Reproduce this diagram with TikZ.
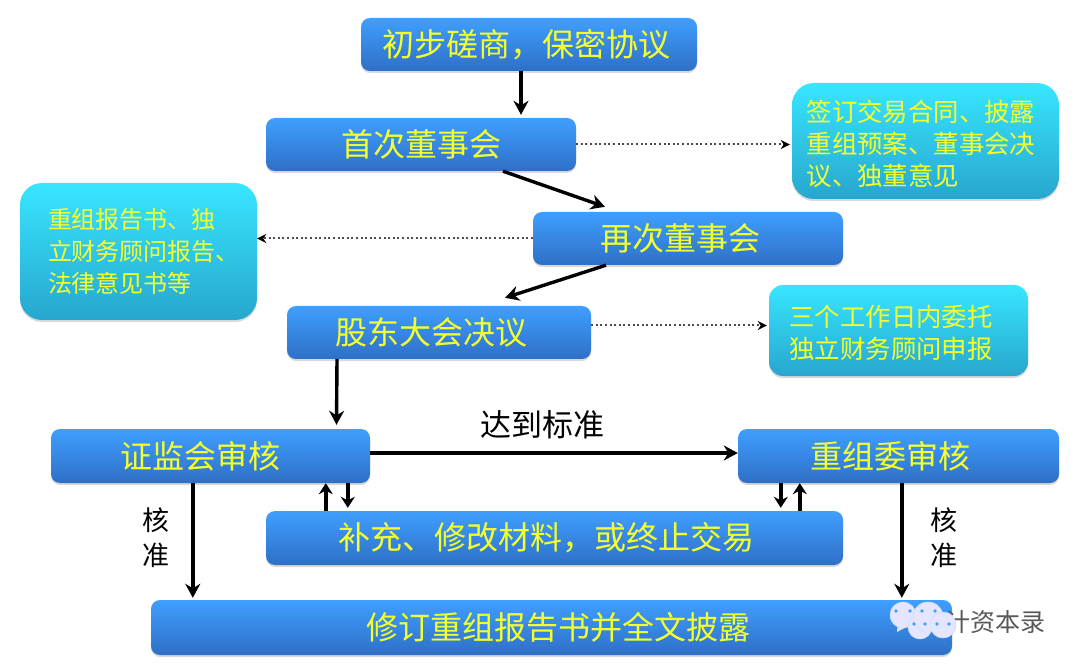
\documentclass[tikz,border=0pt]{standalone}
\usepackage{fontspec}
\setmainfont{Noto Sans CJK SC}
\newfontfamily\cjk{Noto Sans CJK SC}
\usetikzlibrary{arrows.meta,shadows}
\definecolor{btop}{HTML}{3F9FFF}
\definecolor{bbot}{HTML}{2F6FC6}
\definecolor{ctop}{HTML}{38E6FF}
\definecolor{cbot}{HTML}{27A6CE}
\definecolor{txtyellow}{HTML}{F4FF2E}
\tikzset{
  stepbox/.style={rounded corners=9pt, top color=btop, bottom color=bbot, draw=none,
    text=txtyellow, font=\cjk\fontsize{32}{36}\selectfont, inner sep=0pt,
    drop shadow={shadow xshift=0pt, shadow yshift=-2pt, opacity=.3}},
  notebox/.style={rounded corners=22pt, top color=ctop, bottom color=cbot, draw=none,
    text=txtyellow, font=\cjk\fontsize{25.4}{32}\selectfont, align=left, inner sep=0pt,
    drop shadow={shadow xshift=0pt, shadow yshift=-2pt, opacity=.3}},
  mainarrow/.style={line width=3.4pt, -{Stealth[length=14pt,width=15pt]}},
  pairarrow/.style={line width=3.4pt, -{Stealth[length=11pt,width=14pt]}},
  noteline/.style={line width=2pt, dash pattern=on 2pt off 2.6pt, black!70, -{Stealth[length=9pt,width=9pt,black]}},
  sidelabel/.style={font=\cjk\fontsize{27}{30}\selectfont, text=black, inner sep=0pt},
  bubble/.style={fill=white!90!blue, draw=btop!30, line width=.6pt},
}
\begin{document}
\begin{tikzpicture}[x=1pt,y=-1pt]
\useasboundingbox (0,0) rectangle (1080,671);

% Process boxes
\node[stepbox, minimum width=336pt, minimum height=53pt] (agree) at (529,44.5) {\hspace*{-6pt}初步磋商，保密协议};
\node[stepbox, minimum width=310pt, minimum height=53pt] (firstboard) at (421,144.5) {首次董事会};
\node[stepbox, minimum width=310pt, minimum height=53pt] (secondboard) at (688,238.5) {\hspace*{-16pt}再次董事会};
\node[stepbox, minimum width=304pt, minimum height=53pt] (meeting) at (439,332.5) {\hspace*{-16pt}股东大会决议};
\node[stepbox, minimum width=319pt, minimum height=54pt] (csrc) at (210.5,456) {\hspace*{-21pt}证监会审核};
\node[stepbox, minimum width=321pt, minimum height=54pt] (committee) at (898.5,456) {\hspace*{-17pt}重组委审核};
\node[stepbox, minimum width=577pt, minimum height=54pt] (amend) at (554.5,538) {\hspace*{-17pt}补充、修改材料，或终止交易};
\node[stepbox, minimum width=801pt, minimum height=55pt] (publish) at (551.5,627.5) {\hspace*{14pt}修订重组报告书并全文披露};

% Note boxes
\node[notebox, minimum width=267pt, minimum height=116pt] (noteone) at (925.5,141)
  {\hspace*{-9pt}\rule{0pt}{28pt}签订交易合同、披露\\\hspace*{-9pt}重组预案、董事会决\\\hspace*{-9pt}议、独董意见};
\node[notebox, font=\cjk\fontsize{24}{32}\selectfont, minimum width=237pt, minimum height=137pt] (notetwo) at (138.5,251.5)
  {\hspace*{11pt}重组报告书、独\\\hspace*{11pt}立财务顾问报告、\\\hspace*{11pt}法律意见书等};
\node[notebox, rounded corners=14pt, minimum width=259pt, minimum height=91pt] (notethree) at (898.5,330.5)
  {\hspace*{-15pt}\rule{0pt}{26pt}三个工作日内委托\\\hspace*{-15pt}独立财务顾问申报};

% Solid arrows
\draw[mainarrow] ([xshift=-8]agree.south) -- ([xshift=100,yshift=3]firstboard.north);
\draw[mainarrow] ([xshift=82]firstboard.south) -- ([xshift=-83,yshift=5]secondboard.north);
\draw[mainarrow] ([xshift=-82]secondboard.south) -- ([xshift=66,yshift=8]meeting.north);
\draw[mainarrow] ([xshift=-102]meeting.south) -- ([xshift=126,yshift=4]csrc.north);
\draw[mainarrow] ([yshift=3]csrc.east) -- node[pos=.47, above=12pt, sidelabel, font=\cjk\fontsize{31}{34}\selectfont] (reach) {达到标准} ([yshift=3]committee.west);

% Up and down between the review boxes and the amend box
\draw[pairarrow] ([xshift=60]amend.north west) -- ([xshift=275]csrc.south west);
\draw[pairarrow] ([xshift=297]csrc.south west) -- ([xshift=82,yshift=3]amend.north west);
\draw[pairarrow] ([xshift=43]committee.south west) -- ([xshift=515,yshift=3]amend.north west);
\draw[pairarrow] ([xshift=534]amend.north west) -- ([xshift=62]committee.south west);

\draw[mainarrow] ([xshift=142]csrc.south west) -- ([xshift=42,yshift=2]publish.north west);
\draw[mainarrow] ([xshift=164]committee.south west) -- ([xshift=751,yshift=2]publish.north west);

% Dotted arrows to the notes
\draw[noteline] (firstboard.east) -- ([xshift=-2]noteone.west |- firstboard.east);
\draw[noteline] (secondboard.west) -- (notetwo.east |- secondboard.west);
\draw[noteline] ([yshift=7]meeting.east) -- ([xshift=-2,yshift=7]notethree.west |- meeting.east);

% Side labels
\node[sidelabel] (leftone) at (156,520) {核};
\node[sidelabel] (lefttwo) at (156,555) {准};
\node[sidelabel] (rightone) at (944,520) {核};
\node[sidelabel] (righttwo) at (944,555) {准};

% Watermark
\node[font=\cjk\fontsize{25}{28}\selectfont, text=white, inner sep=0pt] (markback) at (996,623) {计资本录};
\node[font=\cjk\fontsize{25}{28}\selectfont, text=black!65, inner sep=0pt] (mark) at (995,622) {计资本录};
\fill[bubble, draw=none] (898,622) -- (897,632) -- (908,626) -- cycle;
\filldraw[bubble] (903,615) circle (13pt);
\filldraw[bubble] (920,627) circle (12pt);
\filldraw[bubble] (928,617) circle (15pt);
\filldraw[bubble] (943,625) circle (13pt);
\foreach \wx/\wy in {896/611,910/611,922/611,935/611,914/624,925/624,937/624,949/624}
  \fill[btop] (\wx,\wy) circle (1.9pt);
\end{tikzpicture}
\end{document}
